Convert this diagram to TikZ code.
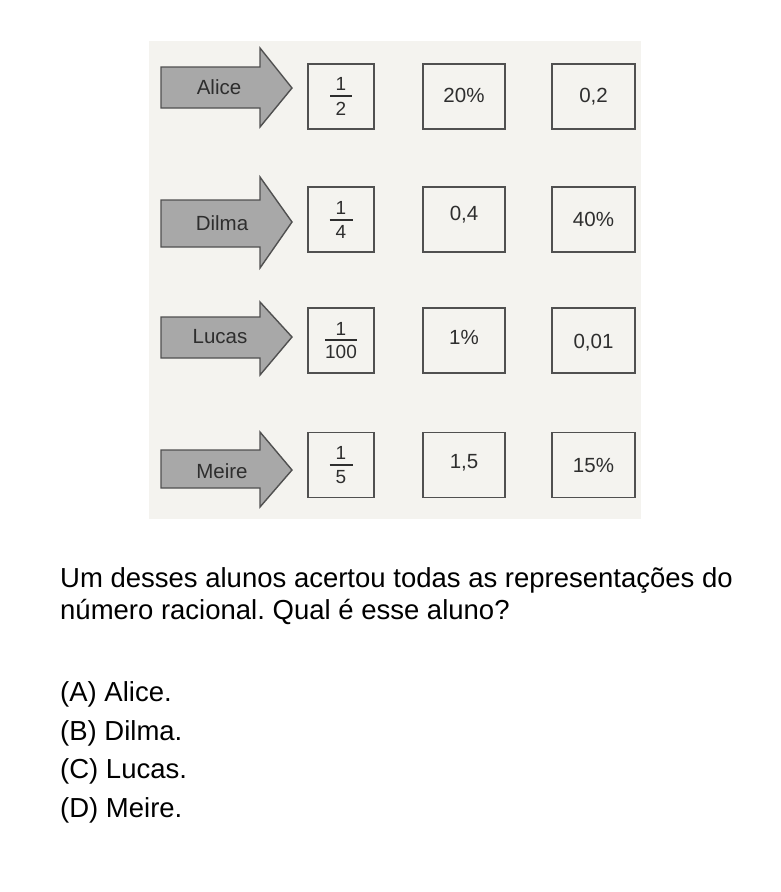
\documentclass[tikz,border=0pt]{standalone}
\usepackage{fontspec}
\setmainfont{Liberation Sans}
\usepackage{xcolor}

\definecolor{panelbg}{HTML}{F4F3EF}
\definecolor{arrowfill}{HTML}{A8A8A8}
\definecolor{edgegray}{HTML}{505050}
\definecolor{textgray}{HTML}{2E2E2E}

% stacked fraction: numerator, denominator, bar width, gap
\newcommand{\fracbox}[4]{\vbox{\hbox to #3{\hss#1\hss}\kern#4\hrule height 2pt width #3\kern#4\hbox to #3{\hss#2\hss}}}
% text drawn a little higher, box size kept
\newcommand{\liftup}[2]{\raisebox{#1}[\height][\depth]{#2}}

\tikzset{
  valbox/.style={draw=edgegray, line width=1.6pt, fill=panelbg, minimum height=65pt,
    inner sep=0pt, text=textgray, font=\fontsize{20.5}{22}\selectfont},
  fracval/.style={font=\fontsize{19}{20}\selectfont},
  namearrow/.style={draw=edgegray, line width=1.4pt, fill=arrowfill, line join=miter},
  namelabel/.style={text=textgray, inner sep=0pt, font=\fontsize{20.5}{22}\selectfont},
  question/.style={anchor=base west, inner sep=0pt, font=\fontsize{27.5}{32}\selectfont}
}

\begin{document}
\frenchspacing
\begin{tikzpicture}[x=1pt,y=-1pt]
  \useasboundingbox (0,0) rectangle (781,892);
  \fill[panelbg] (149,41) rectangle (641,519);

  % Alice
  \draw[namearrow] (161,67) -- (260,67) -- (260,48) -- (292,88) -- (260,127) -- (260,108) -- (161,108) -- cycle;
  \node[namelabel] (alice) at (219,87) {Alice};
  \node[valbox, fracval, minimum width=66pt] (alicefrac) at (341,96.5) {\fracbox{1}{2}{22pt}{5pt}};
  \node[valbox, minimum width=82pt] (alicepct) at (464,96.5) {\liftup{1.5pt}{20\%}};
  \node[valbox, minimum width=83pt] (alicedec) at (593.5,96.5) {0,2};

  % Dilma
  \draw[namearrow] (161,200) -- (260,200) -- (260,177) -- (292,222) -- (260,268) -- (260,247) -- (161,247) -- cycle;
  \node[namelabel] (dilma) at (222,223.5) {Dilma};
  \node[valbox, fracval, minimum width=66pt] (dilmafrac) at (341,219.5) {\fracbox{1}{4}{23pt}{4.5pt}};
  \node[valbox, minimum width=82pt] (dilmadec) at (464,219.5) {\liftup{5pt}{0,4}};
  \node[valbox, minimum width=83pt] (dilmapct) at (593.5,219.5) {40\%};

  % Lucas
  \draw[namearrow] (161,317) -- (260,317) -- (260,302) -- (292,337) -- (260,375) -- (260,358) -- (161,358) -- cycle;
  \node[namelabel] (lucas) at (220,337) {Lucas};
  \node[valbox, fracval, minimum width=66pt] (lucasfrac) at (341,340.5) {\fracbox{1}{100}{32pt}{3.5pt}};
  \node[valbox, minimum width=82pt] (lucaspct) at (464,340.5) {\liftup{3.5pt}{1\%}};
  \node[valbox, minimum width=83pt] (lucasdec) at (593.5,340.5) {\liftup{-2pt}{0,01}};

  % Meire
  \draw[namearrow] (161,450) -- (260,450) -- (260,432) -- (292,470) -- (260,507) -- (260,488) -- (161,488) -- cycle;
  \node[namelabel] (meire) at (222,471) {Meire};
  \node[valbox, fracval, minimum width=66pt] (meirefrac) at (341,465) {\fracbox{1}{5}{23pt}{4.5pt}};
  \node[valbox, minimum width=82pt] (meiredec) at (464,465) {\liftup{2.5pt}{1,5}};
  \node[valbox, minimum width=83pt] (meirepct) at (593.5,465) {15\%};

  % question and choices
  \node[question] (line1) at (60,587) {Um desses alunos acertou todas as representações do};
  \node[question] (line2) at (60,619) {número racional. Qual é esse aluno?};
  \node[question] (optA) at (60,701) {(A) Alice.};
  \node[question] (optB) at (60,740) {(B) Dilma.};
  \node[question] (optC) at (60,778) {(C) Lucas.};
  \node[question] (optD) at (60,817) {(D) Meire.};
\end{tikzpicture}
\end{document}
